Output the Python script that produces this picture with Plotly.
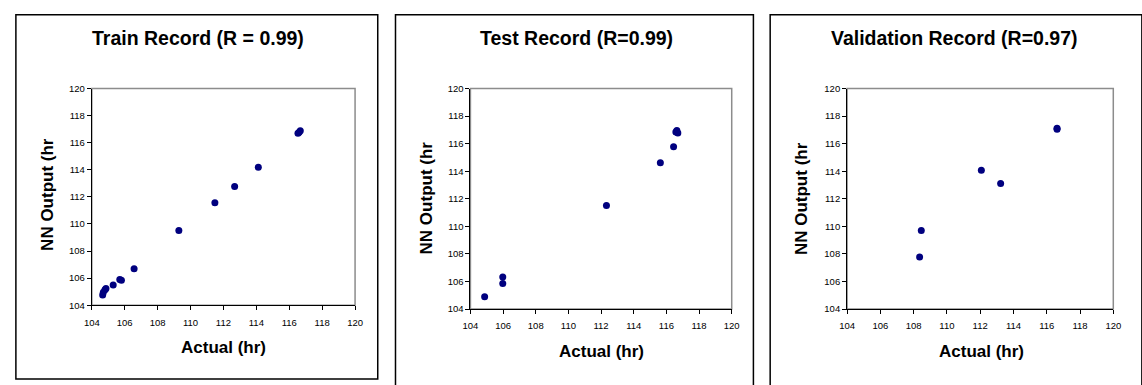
import plotly.graph_objects as go

W, H = 1142, 385

# ---- data ----
train_actual = [104.66, 104.70, 104.80, 104.86, 105.30, 105.70, 105.80, 106.57, 109.29, 111.48, 112.68, 114.12, 116.53, 116.67, 116.60]
train_output = [104.76, 104.95, 105.15, 105.24, 105.50, 105.90, 105.84, 106.70, 109.51, 111.57, 112.76, 114.19, 116.70, 116.89, 116.77]

test_actual = [104.87, 105.98, 105.98, 112.33, 115.63, 116.44, 116.64, 116.70, 116.58]
test_output = [104.89, 106.32, 105.85, 111.51, 114.61, 115.78, 116.96, 116.77, 116.84]

val_actual = [108.46, 108.36, 112.07, 113.23, 116.62, 116.62]
val_output = [109.70, 107.78, 114.07, 113.11, 117.12, 117.05]

titles = ["Train Record (R = 0.99)", "Test Record (R=0.99)", "Validation Record (R=0.97)"]
x_title = "Actual (hr)"
y_title = "NN Output (hr"
tick_vals = [104, 106, 108, 110, 112, 114, 116, 118, 120]
tick_text = ["104", "106", "108", "110", "112", "114", "116", "118", "120"]

FONT = "Liberation Sans, Arial, sans-serif"
NAVY = "#00007f"

# ---- layout geometry (pixels) ----
plot_px = [  # left, right, top, bottom
    (85, 352, 85, 308),
    (469, 734, 85, 312),
    (851, 1121, 85, 312),
]
box_px = [
    (8, 375, 9, 384),
    (393, 756, 9, 400),
    (773, 1150, 9, 400),
]
title_px = [(193, 33), (577, 33), (960, 33)]
xt_px = [(219, 352), (602, 356), (987, 356)]
yt_px = [(40, 194), (424, 198), (805, 198)]

fx = lambda p: p / W
fy = lambda p: 1 - p / H

fig = go.Figure()
datasets = [(train_actual, train_output), (test_actual, test_output), (val_actual, val_output)]

shapes = []
annotations = []
for i, (xs, ys) in enumerate(datasets):
    n = "" if i == 0 else str(i + 1)
    fig.add_trace(go.Scatter(
        x=xs, y=ys, mode="markers",
        marker=dict(color=NAVY, size=7, line=dict(width=0)),
        xaxis="x" + n, yaxis="y" + n, showlegend=False, hoverinfo="skip",
    ))
    l, r, t, b = plot_px[i]
    axis_common = dict(
        range=[104, 120], tickvals=tick_vals, ticktext=tick_text,
        showgrid=False, zeroline=False, showline=True, linecolor="#000000",
        linewidth=1, ticks="outside", ticklen=4, tickcolor="#000000",
        tickfont=dict(family=FONT, size=9.5, color="#000000"), fixedrange=True,
    )
    fig.layout["xaxis" + n] = dict(axis_common, domain=[fx(l), fx(r)], anchor="y" + n,
                                   ticklabelstandoff=4)
    fig.layout["yaxis" + n] = dict(axis_common, domain=[fy(b), fy(t)], anchor="x" + n)

    # plot-area border (grey top/right)
    shapes.append(dict(type="rect", xref="x" + n + " domain", yref="y" + n + " domain",
                       x0=0, x1=1, y0=0, y1=1, line=dict(color="#8c8c8c", width=1.5),
                       layer="below"))
    # outer chart box
    bl, br, bt, bb = box_px[i]
    shapes.append(dict(type="rect", xref="paper", yref="paper",
                       x0=fx(bl), x1=fx(br), y0=fy(bb), y1=fy(bt),
                       line=dict(color="#000000", width=1.5)))
    tx, ty = title_px[i]
    annotations.append(dict(text="<b>%s</b>" % titles[i], xref="paper", yref="paper",
                            x=fx(tx), y=fy(ty), showarrow=False, xanchor="center",
                            yanchor="middle", font=dict(family=FONT, size=19.5, color="#000000")))
    ax, ay = xt_px[i]
    annotations.append(dict(text="<b>%s</b>" % x_title, xref="paper", yref="paper",
                            x=fx(ax), y=fy(ay), showarrow=False, xanchor="center",
                            yanchor="middle", font=dict(family=FONT, size=17, color="#000000")))
    yx, yy = yt_px[i]
    annotations.append(dict(text="<b>%s</b>" % y_title, xref="paper", yref="paper",
                            x=fx(yx), y=fy(yy), showarrow=False, xanchor="center",
                            yanchor="middle", textangle=-90,
                            font=dict(family=FONT, size=17, color="#000000")))

fig.update_layout(
    width=W, height=H, margin=dict(l=0, r=0, t=0, b=0),
    paper_bgcolor="white", plot_bgcolor="white",
    shapes=shapes, annotations=annotations,
)

fig.write_html("out.html", config={"displayModeBar": False})
